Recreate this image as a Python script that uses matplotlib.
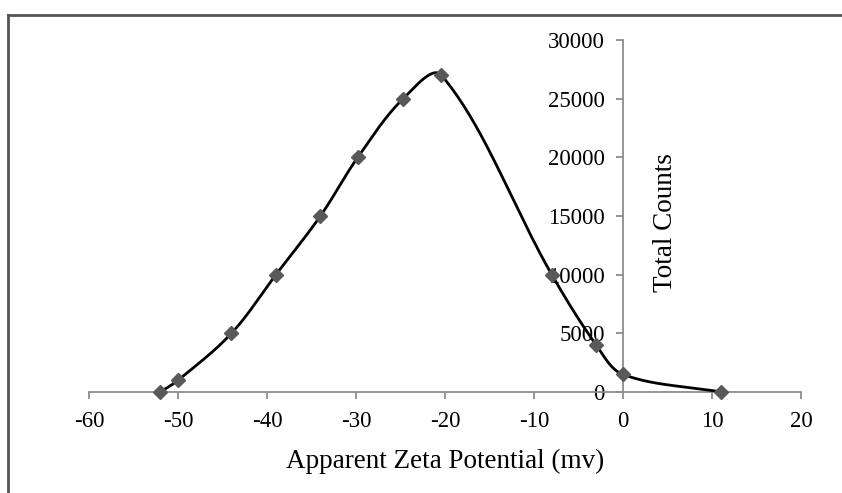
import matplotlib
matplotlib.use("Agg")
import matplotlib.pyplot as plt
from matplotlib.lines import Line2D
import numpy as np

# data
zeta = [-52, -50, -44, -39, -34, -29.8, -24.7, -20.4, -8, -3, 0, 11]
counts = [0, 1000, 5000, 10000, 15000, 20000, 25000, 27000, 10000, 4000, 1500, 0]
xticks = [-60, -50, -40, -30, -20, -10, 0, 10, 20]
yticks = [0, 5000, 10000, 15000, 20000, 25000, 30000]


def smooth_line(ax, x, y, n=40, k=0.35):
    # office style smoothed line: cubic bezier pieces, tangents scaled by chord length
    pts = ax.transData.transform(np.column_stack([x, y]))
    p = np.vstack([pts[0], pts, pts[-1]])
    seg = np.linalg.norm(np.diff(p, axis=0), axis=1)
    t = np.linspace(0, 1, n)[:, None]
    out = []
    for i in range(1, len(p) - 2):
        p0, p3 = p[i], p[i + 1]
        l0, l1, l2 = seg[i - 1], seg[i], seg[i + 1]
        d0 = p[i + 1] - p[i - 1]
        d1 = p[i + 2] - p[i]
        f0 = l1 / (l0 + l1) * k if l0 + l1 > 0 else 0
        f1 = l1 / (l1 + l2) * k if l1 + l2 > 0 else 0
        p1 = p0 + d0 * f0
        p2 = p3 - d1 * f1
        b = (1 - t) ** 3 * p0 + 3 * (1 - t) ** 2 * t * p1 + 3 * (1 - t) * t ** 2 * p2 + t ** 3 * p3
        out.append(b)
    out = np.vstack(out)
    data = ax.transData.inverted().transform(out)
    return data[:, 0], data[:, 1]


plt.rcParams['font.family'] = ['Liberation Serif', 'DejaVu Serif']

fig = plt.figure(figsize=(8.42, 4.93), dpi=100)
ax = fig.add_axes([89 / 842, 101 / 493, 712 / 842, 352 / 493])
ax.set_xlim(-60, 20)
ax.set_ylim(0, 30000)

sx, sy = smooth_line(ax, zeta, counts)
ax.plot(sx, sy, color='black', lw=2, zorder=3, clip_on=False)
ax.plot(zeta, counts, linestyle='none', marker='D', ms=7.5, color='#595959',
        markeredgecolor='#595959', zorder=4, clip_on=False)

ax.set_xticks(xticks)
ax.set_yticks(yticks)
ax.set_xticklabels([str(v) for v in xticks])
ax.set_yticklabels([str(v) for v in yticks])

for s in ['top', 'right']:
    ax.spines[s].set_visible(False)
ax.spines['left'].set_position(('data', 0))
for s in ['left', 'bottom']:
    ax.spines[s].set_color('#8c8c8c')
    ax.spines[s].set_linewidth(1.3)
ax.tick_params(axis='both', direction='out', length=5, width=1.3,
               color='#8c8c8c', labelsize=16.5, pad=9)
ax.tick_params(axis='y', pad=8)

ax.set_xlabel('Apparent Zeta Potential (mv)', fontsize=19.5, labelpad=12)
ax.set_ylabel('Total Counts', fontsize=19.5)
ax.yaxis.set_label_coords(0.81, 0.48)
ax.yaxis.label.set_va('center')

# frame around the chart area (left and top edges only visible)
fig.add_artist(Line2D([8 / 842, 8 / 842], [0, 1 - 15 / 493], transform=fig.transFigure,
                      color='#555555', lw=2))
fig.add_artist(Line2D([8 / 842, 1], [1 - 15 / 493, 1 - 15 / 493], transform=fig.transFigure,
                      color='#555555', lw=2))

plt.savefig('out.png', dpi=100)
